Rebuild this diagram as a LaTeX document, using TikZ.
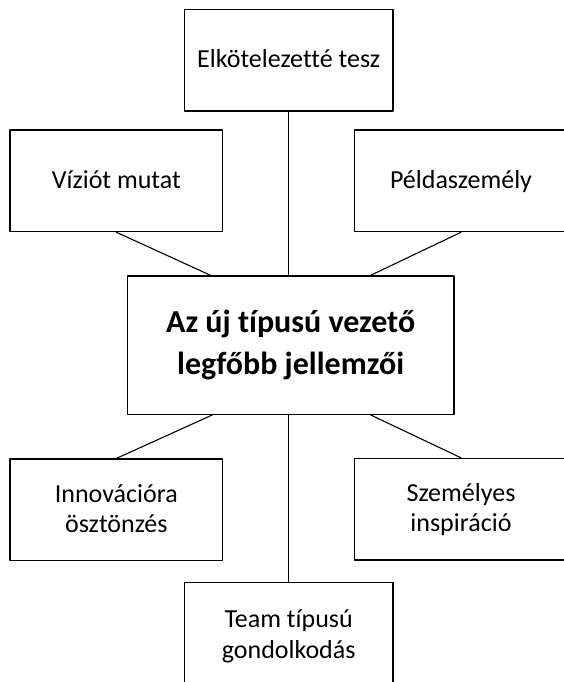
\documentclass[tikz,border=0pt]{standalone}
\usepackage{fontspec}
\setmainfont{Carlito}[Ligatures=CommonOff]

\begin{document}
\begin{tikzpicture}[x=1pt,y=-1pt,line cap=round,line join=round,
  every node/.style={inner sep=0pt},
  dobozstilus/.style={draw,line width=1.3pt,align=center,minimum width=212.7pt,minimum height=101.5pt,
    text depth=3pt,font=\fontsize{26}{30.5}\selectfont},
  kozepstilus/.style={draw,line width=1.3pt,align=center,minimum width=326.7pt,minimum height=138.3pt,
    font=\fontsize{32}{41.7}\selectfont\bfseries},
  vonal/.style={line width=1.1pt}]
  \useasboundingbox (0,0) rectangle (563,682);
  % középső doboz, körülötte a hat jellemző
  \node[kozepstilus] (kozep) at (290.65,345.15) {Az új típusú vezető\\legfőbb jellemzői};
  \node[dobozstilus,minimum width=208.7pt] (tesz) at (288.7,60.35) {Elkötelezetté tesz};
  \node[dobozstilus] (vizio) at (116.35,180.85) {Víziót mutat};
  \node[dobozstilus] (pelda) at (461,180.85) {Példaszemély};
  \node[dobozstilus] (innov) at (116.35,509.85) {Innovációra\\ösztönzés};
  \node[dobozstilus] (szemely) at (461,509.2) {Személyes\\inspiráció};
  \node[dobozstilus,minimum width=208.7pt,minimum height=106pt] (team) at (288.7,635.7) {Team típusú\\gondolkodás};
  \draw[vonal] (tesz.south) -- (tesz.south |- kozep.north);
  \draw[vonal] (vizio.south) -- ([xshift=-80pt]kozep.north);
  \draw[vonal] (pelda.south) -- ([xshift=80pt]kozep.north);
  \draw[vonal] (innov.north) -- ([xshift=-78.4pt]kozep.south);
  \draw[vonal] (szemely.north) -- ([xshift=80pt]kozep.south);
  \draw[vonal] (team.north) -- (team.north |- kozep.south);
\end{tikzpicture}
\end{document}
